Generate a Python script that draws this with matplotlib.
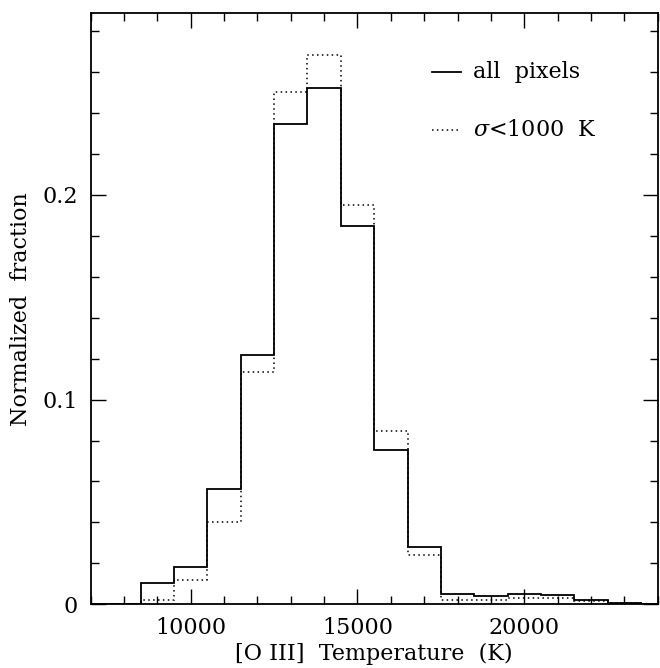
import matplotlib
matplotlib.use("Agg")
import matplotlib.pyplot as plt
from matplotlib.ticker import MultipleLocator

plt.rcParams['font.family'] = 'DejaVu Serif'
plt.rcParams['mathtext.fontset'] = 'dejavuserif'

# bin edges of the [O III] temperature histogram (K)
bin_edges = [6500, 7500, 8500, 9500, 10500, 11500, 12500, 13500, 14500, 15500,
             16500, 17500, 18500, 19500, 20500, 21500, 22500, 23500, 24500]

# normalized fraction, all pixels
frac_all = [0.0, 0.0, 0.0103, 0.0184, 0.0563, 0.1218, 0.2346, 0.2524, 0.1850,
            0.0754, 0.0278, 0.0052, 0.0041, 0.0052, 0.0045, 0.0021, 0.0006, 0.0]

# normalized fraction, pixels with sigma < 1000 K
frac_lowsig = [0.0, 0.0, 0.0020, 0.0117, 0.0404, 0.1136, 0.2501, 0.2682, 0.1952,
               0.0848, 0.0241, 0.0023, 0.0023, 0.0032, 0.0032, 0.0018, 0.0005, 0.0]

labels = ["all  pixels", r"$\sigma$<1000  K"]

fig = plt.figure(figsize=(6.6, 6.68), dpi=100)
ax = fig.add_axes([0.1373, 0.0954, 0.8592, 0.8847])

ax.stairs(frac_all, bin_edges, baseline=None, color='black', lw=1.3)
ax.stairs(frac_lowsig, bin_edges, baseline=None, color='black', lw=1.1,
          linestyle=(0, (1, 2.2)))

ax.set_xlim(7000, 24000)
ax.set_ylim(0, 0.2887)

ax.xaxis.set_major_locator(MultipleLocator(5000))
ax.xaxis.set_minor_locator(MultipleLocator(1000))
ax.yaxis.set_major_locator(MultipleLocator(0.1))
ax.yaxis.set_minor_locator(MultipleLocator(0.02))
ax.set_yticks([0, 0.1, 0.2])
ax.set_yticklabels(["0", "0.1", "0.2"])

ax.tick_params(which='both', direction='in', top=True, right=True,
               labelsize=16, width=1.0, pad=9)
ax.tick_params(which='major', length=11)
ax.tick_params(which='minor', length=6)
for sp in ax.spines.values():
    sp.set_linewidth(1.3)

ax.set_xlabel("[O III]  Temperature  (K)", fontsize=16, labelpad=3)
ax.set_ylabel("Normalized  fraction", fontsize=16, labelpad=8)

# legend drawn by hand, like the original
ax.plot([0.6016, 0.653], [0.900, 0.900], transform=ax.transAxes,
        color='black', lw=1.3)
ax.plot([0.6016, 0.653], [0.8025, 0.8025], transform=ax.transAxes,
        color='black', lw=1.1, linestyle=(0, (1, 2.2)))
ax.text(0.674, 0.900, labels[0], transform=ax.transAxes, fontsize=16,
        va='center', ha='left')
ax.text(0.674, 0.8025, labels[1], transform=ax.transAxes, fontsize=16,
        va='center', ha='left')

fig.savefig("out.png", dpi=100)
